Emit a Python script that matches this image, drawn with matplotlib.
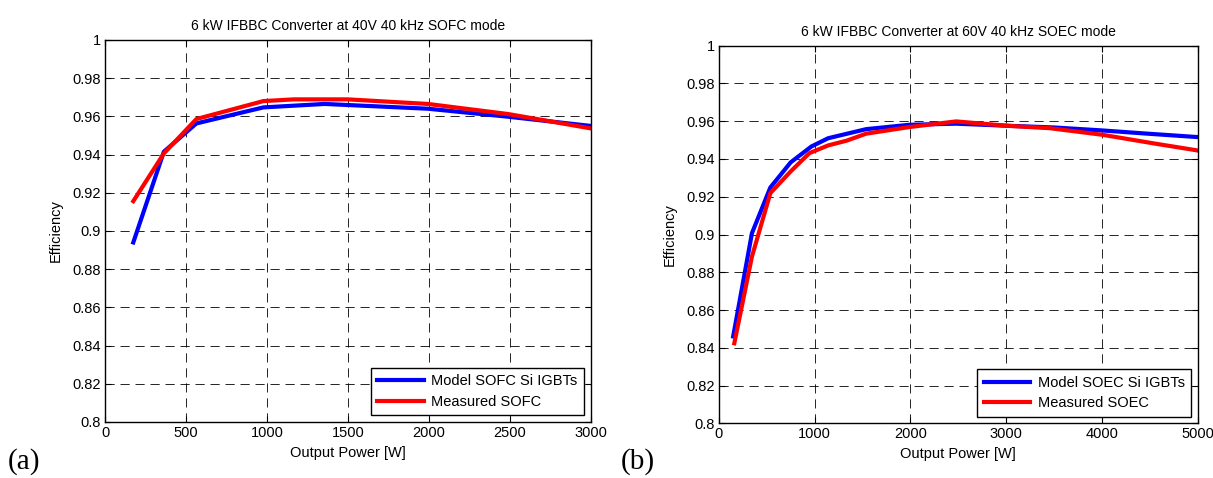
import numpy as np
import matplotlib
matplotlib.use("Agg")
import matplotlib.pyplot as plt

plt.rcParams['font.family'] = ['Liberation Sans', 'DejaVu Sans']

################################ Data (a) SOFC ################################
p_sofc_model = [173, 362, 563, 977, 1356, 1994, 2491, 3000]
eff_sofc_model = [0.894, 0.9415, 0.9563, 0.9647, 0.9665, 0.964, 0.9598, 0.955]
p_sofc_meas = [173, 362, 563, 977, 1166, 1497, 1994, 2491, 3000]
eff_sofc_meas = [0.9156, 0.9406, 0.9586, 0.968, 0.9689, 0.9689, 0.9665, 0.9612, 0.9537]

################################ Data (b) SOEC ################################
p_soec_model = [151, 347, 539, 751, 967, 1143, 1539, 1988, 2478, 3008, 3498, 4008, 4478, 5000]
eff_soec_model = [0.846, 0.9007, 0.9249, 0.9382, 0.9466, 0.951, 0.9558, 0.9581, 0.9587,
                  0.9576, 0.9567, 0.9551, 0.9534, 0.9516]
p_soec_meas = [163, 347, 539, 751, 947, 1143, 1335, 1539, 1988, 2478, 3008, 3457, 4008, 4559, 5000]
eff_soec_meas = [0.8424, 0.8883, 0.9219, 0.9334, 0.9431, 0.9472, 0.9497, 0.9534, 0.9569,
                 0.9599, 0.9576, 0.9563, 0.9528, 0.9481, 0.9445]

yticks = [0.8, 0.82, 0.84, 0.86, 0.88, 0.9, 0.92, 0.94, 0.96, 0.98, 1.0]
ytick_labels = ['0.8', '0.82', '0.84', '0.86', '0.88', '0.9', '0.92', '0.94', '0.96', '0.98', '1']

FS = 10.5

def setup(ax, title, xmax, xstep):
    ax.set_xlim(0, xmax)
    ax.set_ylim(0.8, 1.0)
    ax.set_xticks(np.arange(0, xmax + 1, xstep))
    ax.set_yticks(yticks)
    ax.set_yticklabels(ytick_labels)
    ax.grid(True, color='black', linestyle=(0, (11, 7)), linewidth=0.6)
    ax.tick_params(direction='in', top=True, right=True, labelsize=FS, length=4, width=0.8, pad=3)
    for s in ax.spines.values():
        s.set_linewidth(1.0)
    ax.set_title(title, fontsize=FS - 0.5, pad=7)
    ax.set_xlabel('Output Power [W]', fontsize=FS, labelpad=4)
    ax.set_ylabel('Efficiency', fontsize=FS, labelpad=7)
    leg = ax.legend(loc='lower right', fontsize=FS, handlelength=3.2, borderaxespad=0.45,
                    labelspacing=0.45, fancybox=False, framealpha=1, edgecolor='black',
                    handletextpad=0.5, borderpad=0.45)
    leg.get_frame().set_linewidth(1.0)

fig = plt.figure(figsize=(12.13, 4.78), dpi=100)

ax1 = fig.add_axes([0.0868, 0.1172, 0.4002, 0.7992])
ax1.plot(p_sofc_model, eff_sofc_model, color='#0000ff', linewidth=3.0, label='Model SOFC Si IGBTs')
ax1.plot(p_sofc_meas, eff_sofc_meas, color='#ff0000', linewidth=3.0, label='Measured SOFC')
setup(ax1, '6 kW IFBBC Converter at 40V 40 kHz SOFC mode', 3000, 500)

ax2 = fig.add_axes([0.5925, 0.1144, 0.3949, 0.790])
ax2.plot(p_soec_model, eff_soec_model, color='#0000ff', linewidth=3.0, label='Model SOEC Si IGBTs')
ax2.plot(p_soec_meas, eff_soec_meas, color='#ff0000', linewidth=3.0, label='Measured SOEC')
setup(ax2, '6 kW IFBBC Converter at 60V 40 kHz SOEC mode', 5000, 1000)

fig.text(8 / 1213, 1 - 475 / 478, '(a)', fontsize=21, family='Liberation Serif', va='bottom', ha='left')
fig.text(621 / 1213, 1 - 475 / 478, '(b)', fontsize=21, family='Liberation Serif', va='bottom', ha='left')

fig.savefig('out.png', dpi=100)
